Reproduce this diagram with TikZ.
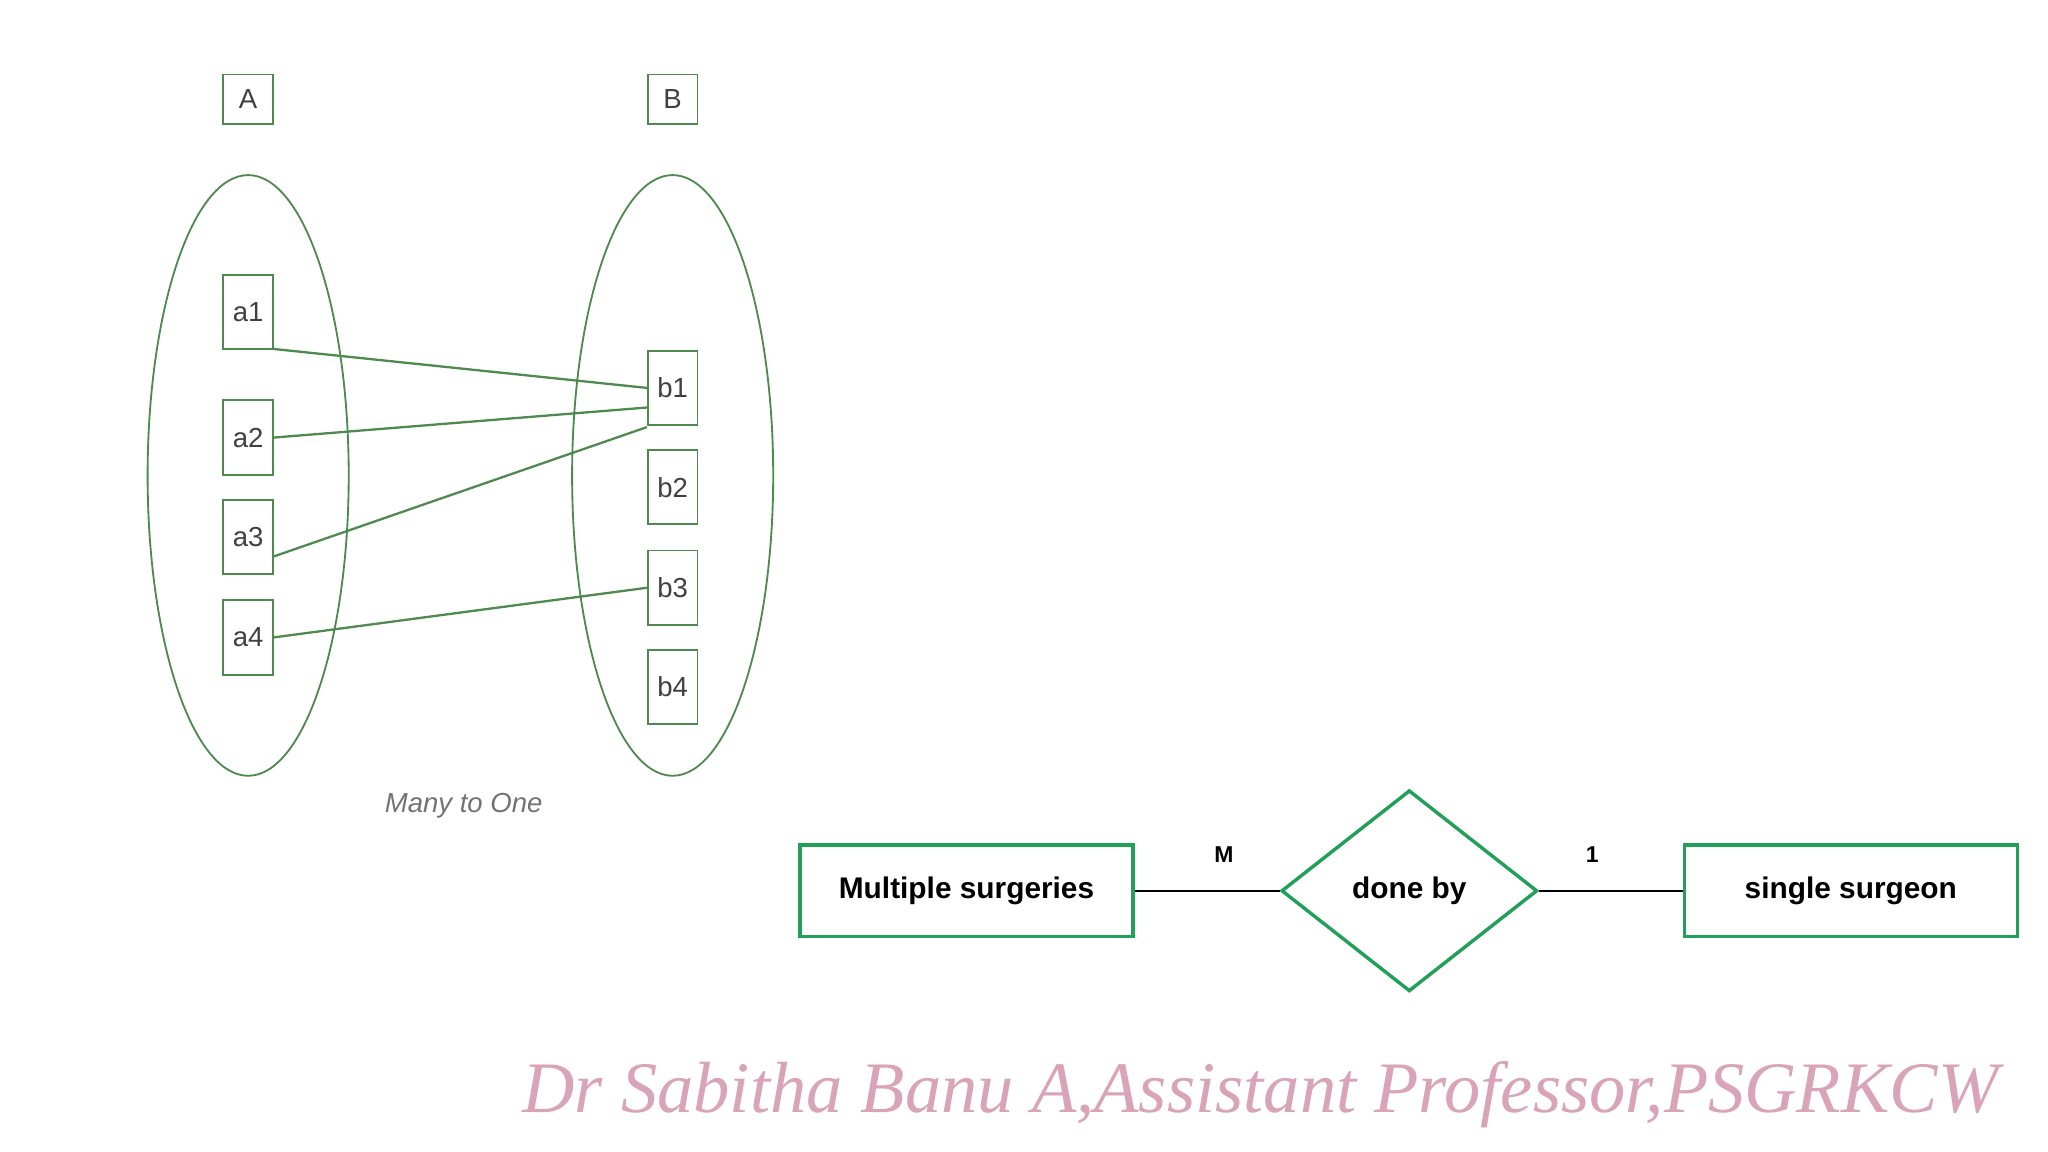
\documentclass[tikz,border=0pt]{standalone}
\usepackage{fontspec}
\setmainfont{Liberation Sans}
\newfontfamily\wmfont{Liberation Serif}
\usetikzlibrary{shapes.geometric}
\definecolor{lg}{HTML}{4E8A4E}
\definecolor{erg}{HTML}{22A05A}
\definecolor{wm}{HTML}{D9A3B8}
\begin{document}
\begin{tikzpicture}[x=0.02cm,y=-0.02cm,
  sbox/.style={draw=lg,line width=0.8pt,minimum width=0.76cm,minimum height=1.14cm,inner sep=0pt,font=\fontsize{12}{12}\selectfont,text=black!75},
  hbox/.style={draw=lg,line width=0.8pt,minimum width=0.76cm,minimum height=0.76cm,inner sep=0pt,font=\fontsize{12}{12}\selectfont,text=black!75},
  ell/.style={draw=lg,line width=0.8pt,ellipse,minimum width=3.08cm,minimum height=9.2cm},
  lk/.style={draw=lg,line width=1pt},
  ent/.style={draw=erg,line width=1.5pt,minimum width=5.1cm,minimum height=1.4cm,font=\bfseries\fontsize{13}{13}\selectfont},
  rel/.style={draw=erg,line width=1.5pt,diamond,aspect=1.27,minimum width=3.92cm,minimum height=3.08cm,inner sep=0pt,font=\bfseries\fontsize{13}{13}\selectfont},
  card/.style={font=\bfseries\fontsize{10}{10}\selectfont}]
\useasboundingbox (0,0) rectangle (1568,882);
\node[hbox] (A) at (190,76) {A};
\node[hbox] (B) at (515,76) {B};
\node[ell] (EA) at (190,364) {};
\node[ell] (EB) at (515,364) {};
\node[sbox] (a1) at (190,239) {a1};
\node[sbox] (a2) at (190,335) {a2};
\node[sbox] (a3) at (190,411) {a3};
\node[sbox] (a4) at (190,488) {a4};
\node[sbox] (b1) at (515,297) {b1};
\node[sbox] (b2) at (515,373) {b2};
\node[sbox] (b3) at (515,450) {b3};
\node[sbox] (b4) at (515,526) {b4};
\draw[lk] ([yshift=0.02cm]a1.south east) -- (b1.west);
\draw[lk] (a2.east) -- ([yshift=-0.3cm]b1.west);
\draw[lk] ([yshift=-0.3cm]a3.east) -- ([yshift=-0.6cm]b1.west);
\draw[lk] (a4.east) -- (b3.west);
\node[font=\itshape\fontsize{12}{12}\selectfont,text=black!55] (cap) at (355,617) {Many to One};
\node[ent] (ms) at (740,682) {Multiple surgeries};
\node[rel] (db) at (1079,682) {done by};
\node[ent] (ss) at (1417,682) {single surgeon};
\draw[line width=1pt] (ms) -- (db) -- (ss);
\node[card] (M) at (937,654) {M};
\node[card] (one) at (1219,654) {1};
\node[text=wm] (wmk) at (965,838) {\resizebox{22.6cm}{!}{\wmfont\itshape Dr Sabitha Banu A,Assistant Professor,PSGRKCW}};
\end{tikzpicture}
\end{document}
